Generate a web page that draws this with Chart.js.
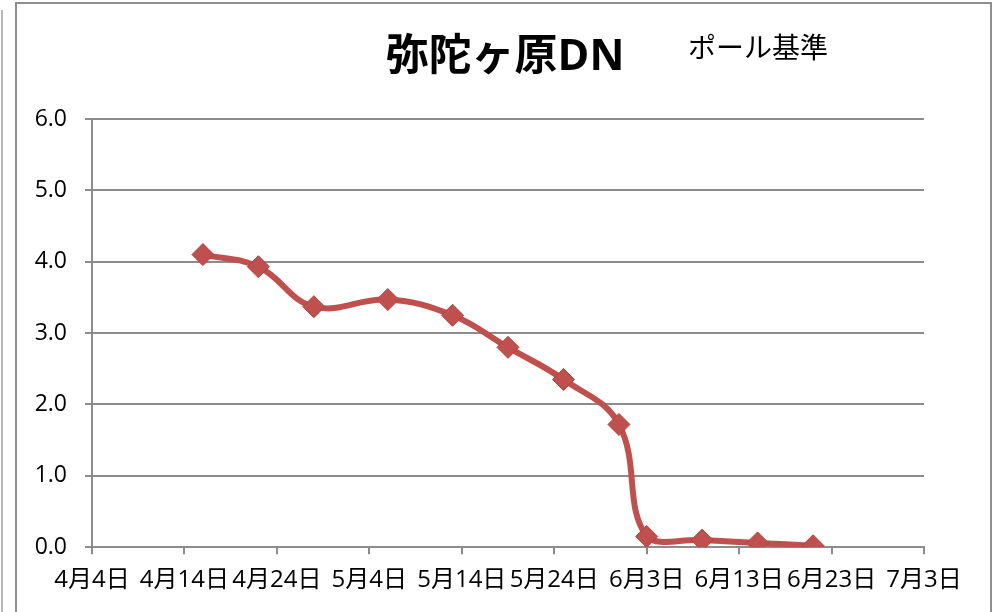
<!DOCTYPE html>
<html>
<head>
<meta charset="utf-8">
<script src="https://cdn.jsdelivr.net/npm/chart.js@4/dist/chart.umd.min.js"></script>
<style>
  html, body { margin: 0; padding: 0; background: #fff; }
  #wrap { width: 996px; height: 612px; position: relative; }
</style>
</head>
<body>
<div id="wrap"><canvas id="poleChart" width="996" height="612"></canvas></div>
<script>
// days counted from 4月4日
const dayOffsets = [12, 18, 24, 32, 39, 45, 51, 57, 60, 66, 72, 78];
const depths     = [4.10, 3.93, 3.37, 3.47, 3.25, 2.80, 2.35, 1.72, 0.15, 0.10, 0.06, 0.02];
const xTickLabels = ['4月4日', '4月14日', '4月24日', '5月4日', '5月14日', '5月24日', '6月3日', '6月13日', '6月23日', '7月3日'];
const yTicks = [0, 1, 2, 3, 4, 5, 6];

const titleText = '弥陀ヶ原DN';
const noteText = 'ポール基準';

const FONT = "'Open Sans', 'Noto Sans CJK JP', sans-serif";
const GRID = '#8c8c8c';
const RED = '#c0504d';

// frame lines, title and the side note
const framePlugin = {
  id: 'frame',
  beforeDraw(chart) {
    const ctx = chart.ctx;
    ctx.save();
    ctx.fillStyle = '#fff';
    ctx.fillRect(0, 0, chart.width, chart.height);
    ctx.strokeStyle = '#8e8e8e';
    ctx.lineWidth = 2;
    ctx.beginPath();
    ctx.moveTo(16, 620);
    ctx.lineTo(16, 3);
    ctx.lineTo(991, 3);
    ctx.lineTo(991, 620);
    ctx.stroke();
    ctx.strokeStyle = '#a0a0a0';
    ctx.lineWidth = 1.5;
    ctx.beginPath();
    ctx.moveTo(2, 10);
    ctx.lineTo(2, 612);
    ctx.stroke();
    ctx.restore();
  },
  afterDraw(chart) {
    const ctx = chart.ctx;
    ctx.save();
    ctx.fillStyle = '#000';
    ctx.textBaseline = 'middle';
    ctx.textAlign = 'center';
    ctx.font = "bold 43px " + FONT;
    ctx.fillText(titleText, 505, 58);
    ctx.textAlign = 'left';
    ctx.font = "28px " + FONT;
    ctx.fillText(noteText, 688, 50);
    ctx.restore();
  }
};

new Chart(document.getElementById('poleChart'), {
  type: 'line',
  data: {
    datasets: [{
      data: dayOffsets.map((d, i) => ({ x: d, y: depths[i] })),
      borderColor: RED,
      backgroundColor: RED,
      borderWidth: 6,
      tension: 0.4,
      pointStyle: 'rectRot',
      pointRadius: 11,
      pointBorderWidth: 1,
      pointBorderColor: '#b5413e',
      pointBackgroundColor: RED,
      fill: false
    }]
  },
  options: {
    responsive: false,
    animation: false,
    devicePixelRatio: 1,
    layout: { padding: { left: 0, right: 72, top: 119, bottom: 5 } },
    plugins: {
      legend: { display: false },
      tooltip: { enabled: false },
      title: { display: false }
    },
    scales: {
      x: {
        type: 'linear',
        min: 0,
        max: 90,
        afterBuildTicks(axis) {
          axis.ticks = xTickLabels.map((_, i) => ({ value: i * 10 }));
        },
        ticks: {
          autoSkip: false,
          maxRotation: 0,
          padding: 12,
          color: '#000',
          font: { family: FONT, size: 24 },
          callback: (v, i) => xTickLabels[i]
        },
        grid: { drawOnChartArea: false, drawTicks: true, tickLength: 7, color: GRID, lineWidth: 2 },
        border: { display: true, color: GRID, width: 2 }
      },
      y: {
        min: 0,
        max: 6,
        afterBuildTicks(axis) {
          axis.ticks = yTicks.map(v => ({ value: v }));
        },
        afterFit(axis) { axis.width = 92; },
        ticks: {
          padding: 18,
          color: '#000',
          font: { family: FONT, size: 23 },
          callback: v => v.toFixed(1)
        },
        grid: { color: GRID, lineWidth: 2, tickLength: 7 },
        border: { display: true, color: GRID, width: 2 }
      }
    }
  },
  plugins: [framePlugin]
});
</script>
</body>
</html>
